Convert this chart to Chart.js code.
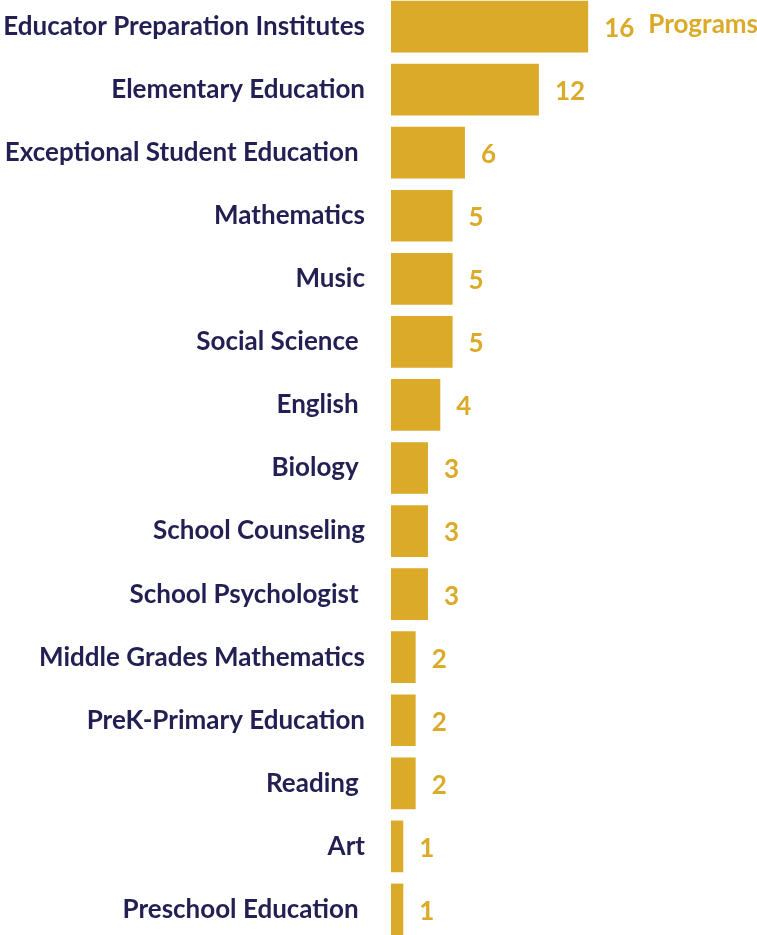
<!DOCTYPE html>
<html>
<head>
<meta charset="utf-8">
<script src="https://cdn.jsdelivr.net/npm/chart.js@4"></script>
<style>
  html, body { margin: 0; padding: 0; background: #fff; }
  #wrap { position: relative; width: 757px; height: 935px; overflow: hidden; }
  #chart { position: absolute; left: 0; top: -5px; }
</style>
</head>
<body>
<div id="wrap"><canvas id="chart" width="757" height="946"></canvas></div>
<script>
// Programs per field
const programNames = [
    'Educator Preparation Institutes',
    'Elementary Education',
    'Exceptional Student Education ',
    'Mathematics',
    'Music',
    'Social Science ',
    'English ',
    'Biology ',
    'School Counseling',
    'School Psychologist ',
    'Middle Grades Mathematics',
    'PreK-Primary Education',
    'Reading ',
    'Art',
    'Preschool Education ',
];
const programCounts = [16, 12, 6, 5, 5, 5, 4, 3, 3, 3, 2, 2, 2, 1, 1];
const unitLabel = 'Programs';

const GOLD = '#DAAA28';
const NAVY = '#221F52';
const FONT = 'Lato, "Open Sans", sans-serif';

// value labels at the end of each bar, plus the unit after the first one
const valueLabels = {
    id: 'valueLabels',
    afterDatasetsDraw(chart) {
        const ctx = chart.ctx;
        const meta = chart.getDatasetMeta(0);
        ctx.save();
        ctx.fillStyle = GOLD;
        ctx.textBaseline = 'middle';
        ctx.textAlign = 'left';
        meta.data.forEach((bar, i) => {
            ctx.font = `bold 26px ${FONT}`;
            const txt = String(programCounts[i]);
            const x = bar.x + 16;
            ctx.fillText(txt, x, bar.y + 2);
            if (i === 0) {
                const w = ctx.measureText(txt).width;
                ctx.font = `bold 26px ${FONT}`;
                ctx.fillText(unitLabel, x + w + 14, bar.y - 2);
            }
        });
        ctx.restore();
    }
};

new Chart(document.getElementById('chart'), {
    type: 'bar',
    data: {
        labels: programNames,
        datasets: [{
            data: programCounts,
            backgroundColor: GOLD,
            borderWidth: 0,
            barPercentage: 0.82,
            categoryPercentage: 1,
        }],
    },
    options: {
        indexAxis: 'y',
        responsive: false,
        animation: false,
        layout: { padding: 0 },
        plugins: {
            legend: { display: false },
            tooltip: { enabled: false },
        },
        scales: {
            x: {
                display: false,
                min: 0,
                max: 29.7,
            },
            y: {
                border: { display: false },
                grid: { display: false, drawTicks: false },
                ticks: {
                    color: NAVY,
                    padding: 26,
                    font: { family: FONT, size: 26, weight: 'bold' },
                },
                afterFit(scale) {
                    scale.width = 391;
                    scale.paddingTop = 0;
                    scale.paddingBottom = 0;
                },
            },
        },
    },
    plugins: [valueLabels],
});
</script>
</body>
</html>
